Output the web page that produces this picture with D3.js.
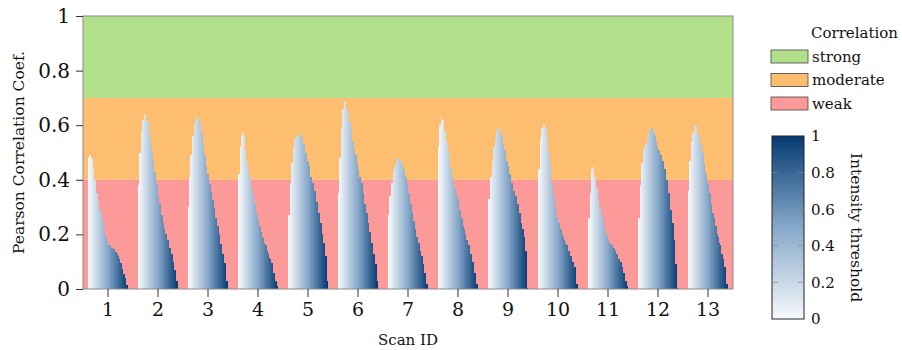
<!DOCTYPE html>
<html lang="en">
<head>
<meta charset="UTF-8">
<title>Pearson Correlation per Scan</title>
<script src="https://cdnjs.cloudflare.com/ajax/libs/d3/7.8.5/d3.min.js"></script>
<style>
  body { margin: 0; background: #fff; }
  svg { display: block; }
  svg text { font-family: "DejaVu Serif", serif; fill: #111; }
</style>
</head>
<body>
<svg id="chart" width="902" height="350"></svg>
<script>
// scan ids on the x axis
const scanIds = [1, 2, 3, 4, 5, 6, 7, 8, 9, 10, 11, 12, 13];

// correlation coefficient per intensity threshold step (40 steps, low -> high threshold)
const scan1 = [0.48, 0.49, 0.49, 0.48, 0.48, 0.44, 0.40, 0.40, 0.35, 0.35, 0.32, 0.29, 0.29, 0.28, 0.255, 0.24, 0.215, 0.195, 0.19, 0.175, 0.165, 0.16, 0.16, 0.15, 0.15, 0.145, 0.145, 0.135, 0.135, 0.13, 0.12, 0.11, 0.095, 0.095, 0.075, 0.055, 0.055, 0.04, 0.015, 0.015];
const scan2 = [0.38, 0.50, 0.50, 0.58, 0.62, 0.62, 0.64, 0.64, 0.62, 0.61, 0.61, 0.58, 0.55, 0.52, 0.50, 0.47, 0.43, 0.43, 0.38, 0.38, 0.34, 0.31, 0.31, 0.27, 0.27, 0.24, 0.22, 0.20, 0.20, 0.18, 0.18, 0.15, 0.15, 0.13, 0.13, 0.10, 0.07, 0.07, 0.03, 0.03];
const scan3 = [0.30, 0.41, 0.49, 0.49, 0.56, 0.56, 0.60, 0.62, 0.63, 0.63, 0.625, 0.61, 0.61, 0.57, 0.57, 0.53, 0.49, 0.49, 0.45, 0.42, 0.42, 0.385, 0.385, 0.355, 0.325, 0.325, 0.295, 0.26, 0.26, 0.23, 0.23, 0.20, 0.165, 0.165, 0.13, 0.13, 0.095, 0.095, 0.03, 0.03];
const scan4 = [0.42, 0.42, 0.52, 0.56, 0.57, 0.57, 0.56, 0.51, 0.47, 0.47, 0.44, 0.41, 0.41, 0.37, 0.36, 0.34, 0.31, 0.31, 0.28, 0.27, 0.25, 0.23, 0.23, 0.21, 0.19, 0.185, 0.17, 0.16, 0.16, 0.14, 0.13, 0.115, 0.11, 0.095, 0.095, 0.06, 0.06, 0.03, 0.03, 0.01];
const scan5 = [0.27, 0.27, 0.39, 0.46, 0.46, 0.52, 0.55, 0.55, 0.56, 0.57, 0.57, 0.56, 0.56, 0.56, 0.55, 0.53, 0.53, 0.50, 0.50, 0.47, 0.47, 0.45, 0.41, 0.41, 0.39, 0.39, 0.36, 0.36, 0.32, 0.32, 0.28, 0.28, 0.24, 0.24, 0.20, 0.17, 0.17, 0.12, 0.12, 0.03];
const scan6 = [0.35, 0.48, 0.48, 0.59, 0.66, 0.66, 0.69, 0.69, 0.66, 0.66, 0.64, 0.61, 0.61, 0.58, 0.54, 0.54, 0.51, 0.49, 0.49, 0.46, 0.44, 0.41, 0.41, 0.39, 0.39, 0.35, 0.31, 0.31, 0.28, 0.28, 0.24, 0.21, 0.21, 0.17, 0.17, 0.13, 0.13, 0.09, 0.09, 0.03];
const scan7 = [0.27, 0.34, 0.34, 0.39, 0.39, 0.43, 0.45, 0.45, 0.47, 0.48, 0.48, 0.48, 0.47, 0.46, 0.46, 0.44, 0.44, 0.41, 0.41, 0.38, 0.35, 0.35, 0.31, 0.31, 0.28, 0.25, 0.25, 0.22, 0.19, 0.19, 0.17, 0.17, 0.14, 0.12, 0.12, 0.09, 0.06, 0.06, 0.02, 0.02];
const scan8 = [0.52, 0.60, 0.60, 0.63, 0.62, 0.62, 0.58, 0.58, 0.54, 0.54, 0.51, 0.48, 0.44, 0.44, 0.41, 0.39, 0.37, 0.37, 0.35, 0.33, 0.33, 0.29, 0.29, 0.26, 0.26, 0.23, 0.22, 0.20, 0.18, 0.18, 0.16, 0.16, 0.13, 0.13, 0.10, 0.10, 0.06, 0.06, 0.02, 0.02];
const scan9 = [0.33, 0.33, 0.41, 0.41, 0.47, 0.52, 0.52, 0.55, 0.58, 0.59, 0.59, 0.585, 0.58, 0.56, 0.56, 0.53, 0.51, 0.51, 0.47, 0.47, 0.45, 0.42, 0.42, 0.39, 0.39, 0.36, 0.36, 0.34, 0.34, 0.31, 0.31, 0.28, 0.28, 0.24, 0.22, 0.22, 0.19, 0.14, 0.14, 0.005];
const scan10 = [0.44, 0.44, 0.55, 0.59, 0.59, 0.60, 0.60, 0.59, 0.59, 0.55, 0.50, 0.50, 0.45, 0.39, 0.39, 0.34, 0.34, 0.30, 0.28, 0.26, 0.24, 0.24, 0.22, 0.22, 0.20, 0.19, 0.18, 0.17, 0.16, 0.16, 0.14, 0.14, 0.12, 0.12, 0.10, 0.10, 0.08, 0.08, 0.02, 0.02];
const scan11 = [0.26, 0.26, 0.35, 0.44, 0.44, 0.45, 0.41, 0.41, 0.37, 0.37, 0.33, 0.30, 0.30, 0.27, 0.27, 0.25, 0.23, 0.21, 0.20, 0.19, 0.18, 0.17, 0.17, 0.16, 0.16, 0.15, 0.15, 0.14, 0.13, 0.13, 0.11, 0.11, 0.10, 0.10, 0.08, 0.06, 0.06, 0.03, 0.03, 0.01];
const scan12 = [0.26, 0.26, 0.38, 0.46, 0.46, 0.51, 0.52, 0.53, 0.53, 0.55, 0.57, 0.58, 0.59, 0.59, 0.59, 0.57, 0.57, 0.56, 0.54, 0.52, 0.51, 0.51, 0.49, 0.49, 0.47, 0.47, 0.44, 0.44, 0.40, 0.40, 0.35, 0.35, 0.29, 0.29, 0.24, 0.24, 0.18, 0.09, 0.09, 0.005];
const scan13 = [0.36, 0.47, 0.47, 0.54, 0.57, 0.57, 0.60, 0.60, 0.60, 0.57, 0.57, 0.56, 0.53, 0.53, 0.50, 0.50, 0.46, 0.43, 0.42, 0.39, 0.38, 0.35, 0.35, 0.31, 0.28, 0.28, 0.26, 0.23, 0.23, 0.20, 0.19, 0.17, 0.16, 0.13, 0.13, 0.11, 0.08, 0.08, 0.02, 0.02];

const scanValues = [scan1, scan2, scan3, scan4, scan5, scan6, scan7, scan8, scan9, scan10, scan11, scan12, scan13];

// correlation categories shown as background bands
const bandNames = ["strong", "moderate", "weak"];
const bandFrom = [0.7, 0.4, 0];
const bandTo = [1, 0.7, 0.4];
const bandColors = ["#b2df8a", "#fdbf6f", "#fb9a99"];

const yTicks = [0, 0.2, 0.4, 0.6, 0.8, 1];
const cbTicks = [0, 0.2, 0.4, 0.6, 0.8, 1];

const svg = d3.select("#chart");
const plotLeft = 83, plotRight = 733, plotTop = 16, plotBottom = 289;

const x = d3.scaleBand().domain(scanIds).range([plotLeft, plotRight]).paddingInner(0.2).paddingOuter(0.1);
const steps = d3.range(scan1.length);
const xi = d3.scaleBand().domain(steps).range([0, x.bandwidth()]);
const y = d3.scaleLinear().domain([0, 1]).range([plotBottom, plotTop]);

const color = d3.scaleLinear().domain([0, 0.5, 1]).range(["#f7f9fc", "#86a8c9", "#053b73"]);
const threshold = i => i / (steps.length - 1);

// background bands
svg.append("g").selectAll("rect")
  .data(bandNames)
  .join("rect")
  .attr("x", plotLeft)
  .attr("width", plotRight - plotLeft)
  .attr("y", (d, i) => y(bandTo[i]))
  .attr("height", (d, i) => y(bandFrom[i]) - y(bandTo[i]))
  .attr("fill", (d, i) => bandColors[i]);

// bars
const groups = svg.append("g").selectAll("g")
  .data(scanIds)
  .join("g")
  .attr("transform", d => `translate(${x(d)},0)`);

groups.selectAll("rect")
  .data((d, gi) => scanValues[gi].map((v, i) => ({ i, v })))
  .join("rect")
  .attr("x", d => xi(d.i))
  .attr("width", xi.bandwidth() + 0.4)
  .attr("y", d => y(d.v))
  .attr("height", d => y(0) - y(d.v))
  .attr("fill", d => color(threshold(d.i)))
  .attr("shape-rendering", "crispEdges");

// frame
svg.append("rect")
  .attr("x", plotLeft).attr("y", plotTop)
  .attr("width", plotRight - plotLeft).attr("height", plotBottom - plotTop)
  .attr("fill", "none").attr("stroke", "#8c8c8c").attr("stroke-width", 1);

// axes
const xAxis = svg.append("g")
  .attr("transform", `translate(0,${plotBottom})`)
  .call(d3.axisBottom(x).tickSize(8).tickPadding(6));
xAxis.attr("font-family", null);
xAxis.select(".domain").remove();
xAxis.selectAll("line").attr("stroke", "#333");
xAxis.selectAll("text").attr("font-size", 19);

const yAxis = svg.append("g")
  .attr("transform", `translate(${plotLeft},0)`)
  .call(d3.axisLeft(y).tickValues(yTicks).tickFormat(d3.format("~g")).tickSize(7).tickPadding(6));
yAxis.attr("font-family", null);
yAxis.select(".domain").remove();
yAxis.selectAll("line").attr("stroke", "#333");
yAxis.selectAll("text").attr("font-size", 20);

svg.append("text")
  .attr("x", (plotLeft + plotRight) / 2).attr("y", 345)
  .attr("text-anchor", "middle").attr("font-size", 15)
  .text("Scan ID");

svg.append("text")
  .attr("transform", `translate(24,${(plotTop + plotBottom) / 2}) rotate(-90)`)
  .attr("text-anchor", "middle").attr("font-size", 15.5)
  .text("Pearson Correlation Coef.");

// legend for the bands
svg.append("text")
  .attr("x", 811).attr("y", 38)
  .attr("font-size", 15)
  .text("Correlation");

const legend = svg.append("g").selectAll("g")
  .data(bandNames)
  .join("g")
  .attr("transform", (d, i) => `translate(771,${50 + i * 23.5})`);
legend.append("rect")
  .attr("width", 37).attr("height", 13)
  .attr("fill", (d, i) => bandColors[i])
  .attr("stroke", "#444").attr("stroke-width", 0.8);
legend.append("text")
  .attr("x", 41).attr("y", 11.5)
  .attr("font-size", 15)
  .text(d => d);

// colorbar
const cbX = 772, cbW = 32, cbTop = 136, cbBottom = 319;
const cy = d3.scaleLinear().domain([0, 1]).range([cbBottom, cbTop]);
const grad = svg.append("defs").append("linearGradient")
  .attr("id", "cbgrad").attr("x1", 0).attr("y1", 1).attr("x2", 0).attr("y2", 0);
grad.selectAll("stop")
  .data(d3.range(0, 1.001, 0.1))
  .join("stop")
  .attr("offset", d => d)
  .attr("stop-color", d => color(d));

svg.append("rect")
  .attr("x", cbX).attr("y", cbTop).attr("width", cbW).attr("height", cbBottom - cbTop)
  .attr("fill", "url(#cbgrad)").attr("stroke", "#222").attr("stroke-width", 1);

const cbInner = svg.append("g");
cbInner.selectAll("line.l")
  .data(cbTicks.slice(1, -1))
  .join("line")
  .attr("x1", cbX).attr("x2", cbX + 6)
  .attr("y1", d => cy(d)).attr("y2", d => cy(d))
  .attr("stroke", "#888").attr("stroke-opacity", 0.7);
cbInner.selectAll("line.r")
  .data(cbTicks.slice(1, -1))
  .join("line")
  .attr("x1", cbX + cbW - 6).attr("x2", cbX + cbW)
  .attr("y1", d => cy(d)).attr("y2", d => cy(d))
  .attr("stroke", "#888").attr("stroke-opacity", 0.7);

const cbAxis = svg.append("g")
  .attr("transform", `translate(${cbX + cbW},0)`)
  .call(d3.axisRight(cy).tickValues(cbTicks).tickFormat(d3.format("~g")).tickSize(0).tickPadding(7));
cbAxis.attr("font-family", null);
cbAxis.select(".domain").remove();
cbAxis.selectAll("text").attr("font-size", 15);

svg.append("text")
  .attr("transform", `translate(851,${(cbTop + cbBottom) / 2}) rotate(90)`)
  .attr("text-anchor", "middle").attr("font-size", 15.5)
  .text("Intensity threshold");
</script>
</body>
</html>
